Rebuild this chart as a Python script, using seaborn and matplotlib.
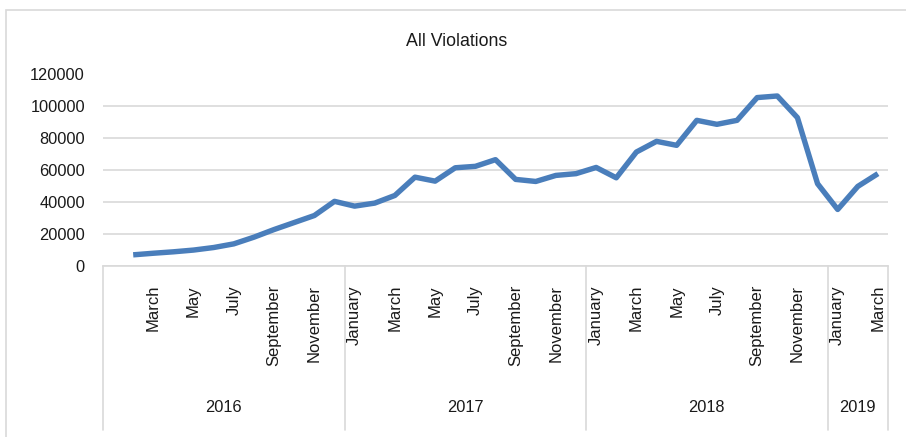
import numpy as np
import pandas as pd
import seaborn as sns
import matplotlib.pyplot as plt
from matplotlib.transforms import blended_transform_factory
from matplotlib.patches import Rectangle
from matplotlib.lines import Line2D

# ---- data ----
years = ["2016", "2017", "2018", "2019"]
months_per_year = [12, 12, 12, 3]
month_names = ["January", "February", "March", "April", "May", "June", "July",
               "August", "September", "October", "November", "December"]
values_2016 = [np.nan, 6700, 7700, 8600, 9700, 11300, 13600, 17800, 22600, 27000, 31400, 40300]
values_2017 = [37300, 39200, 44000, 55500, 53000, 61400, 62300, 66500, 54100, 52800, 56600, 57700]
values_2018 = [61600, 55100, 71300, 78000, 75500, 91200, 88700, 91200, 105500, 106500, 92900, 51400]
values_2019 = [35200, 49700, 57700]
y_ticks = [0, 20000, 40000, 60000, 80000, 100000, 120000]

all_values = values_2016 + values_2017 + values_2018 + values_2019
slot_month = []
slot_year = []
for y, n in zip(years, months_per_year):
    for m in range(n):
        slot_month.append(month_names[m])
        slot_year.append(y)
df = pd.DataFrame({"idx": np.arange(len(all_values)), "month": slot_month,
                   "year": slot_year, "value": all_values})

# tick labels: every other month, Jan 2016 has no data/label
tick_labels = []
for i, (m, y) in enumerate(zip(slot_month, slot_year)):
    mi = month_names.index(m)
    if mi % 2 == 0 and not (y == "2016" and mi == 0):
        tick_labels.append(m)
    else:
        tick_labels.append("")

# ---- style ----
sns.set_theme(style="white")
plt.rcParams["font.family"] = ["Liberation Sans", "DejaVu Sans"]
grid_c = "#D9D9D9"
text_c = "#1a1a1a"

W, H = 906, 437
fig = plt.figure(figsize=(W / 100, H / 100), dpi=100)
ax_l, ax_r, ax_t, ax_b = 103, 888, 74.5, 265.5
ax = fig.add_axes([ax_l / W, 1 - ax_b / H, (ax_r - ax_l) / W, (ax_b - ax_t) / H])

sns.lineplot(data=df, x="idx", y="value", ax=ax, color="#4A7EBB", linewidth=3.9,
             solid_joinstyle="round", solid_capstyle="butt")

ax.set_xlim(-0.5, len(all_values) - 0.5)
ax.set_ylim(0, 120000)
ax.set_yticks(y_ticks)
ax.set_yticklabels([str(v) for v in y_ticks], fontsize=11.8, color=text_c)
ax.set_xticks(df["idx"])
ax.set_xticklabels(tick_labels, rotation=90, fontsize=12, color=text_c)
ax.set_xlabel("")
ax.set_ylabel("")
ax.tick_params(axis="both", length=0)
ax.tick_params(axis="y", pad=13)
ax.tick_params(axis="x", pad=14)
ax.yaxis.grid(True, color=grid_c, linewidth=1.2)
ax.xaxis.grid(False)
ax.set_axisbelow(True)
for s in ["left", "top", "right"]:
    ax.spines[s].set_visible(False)
ax.spines["bottom"].set_color(grid_c)
ax.spines["bottom"].set_linewidth(1.2)

# group separators and year labels
trans = blended_transform_factory(ax.transData, ax.transAxes)
sep_bottom = (ax_b - 430) / (ax_b - ax_t)
year_y = (ax_b - 408) / (ax_b - ax_t)
start = 0
bounds = [-0.5]
for y, n in zip(years, months_per_year):
    end = start + n
    bounds.append(end - 0.5)
    ax.text((start + end - 1) / 2, year_y, y, transform=trans, ha="center",
            va="center", fontsize=11.8, color=text_c)
    start = end
for b in bounds:
    ax.add_line(Line2D([b, b], [0, sep_bottom], transform=trans, color=grid_c,
                       linewidth=1.2, clip_on=False))

# title
fig.text(457 / W, 1 - 41 / H, "All Violations", ha="center", va="center",
         fontsize=12.8, color=text_c)

# chart border (cropped at right / bottom)
fig.patches.append(Rectangle((6 / W, -0.1), 1.2, 1.1 - 10 / H, transform=fig.transFigure,
                             fill=False, edgecolor=grid_c, linewidth=1.2))

fig.savefig("out.png", dpi=100)
